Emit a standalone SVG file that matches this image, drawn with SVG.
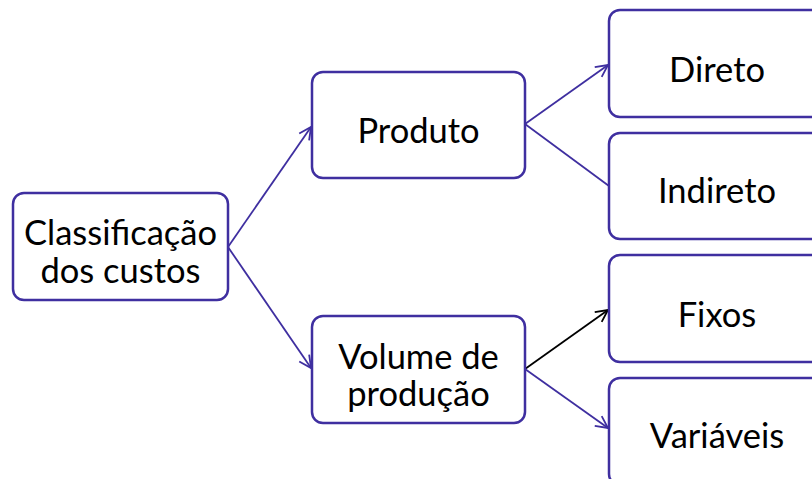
<svg xmlns="http://www.w3.org/2000/svg" width="812" height="479" viewBox="0 0 812 479">
<defs>
<style>
.box{fill:#fff;stroke:#3f2fa0;stroke-width:2.5}
.lbl{font-family:Lato,"Liberation Sans",sans-serif;font-size:34.5px;fill:#000;text-anchor:middle}
.c{fill:none;stroke:#3f2fa0;stroke-width:1.8}
.k{fill:none;stroke:#000;stroke-width:1.8}
</style>
<marker id="ap" viewBox="-14 -8 16 16" refX="0" refY="0" markerWidth="16" markerHeight="16" markerUnits="userSpaceOnUse" orient="auto">
<path d="M-12,-6 L0,0 L-12,6" fill="none" stroke="#3f2fa0" stroke-width="1.8"/>
</marker>
<marker id="ak" viewBox="-14 -8 16 16" refX="0" refY="0" markerWidth="16" markerHeight="16" markerUnits="userSpaceOnUse" orient="auto">
<path d="M-12,-6 L0,0 L-12,6" fill="none" stroke="#000" stroke-width="1.8"/>
</marker>
</defs>
<rect width="812" height="479" fill="#fff"/>
<g id="connectors">
<line class="c" x1="228" y1="247" x2="311" y2="127" marker-end="url(#ap)"/>
<line class="c" x1="228" y1="247" x2="311" y2="368" marker-end="url(#ap)"/>
<line class="c" x1="525" y1="124" x2="608" y2="65" marker-end="url(#ap)"/>
<line class="c" x1="525" y1="124" x2="609" y2="186"/>
<line class="k" x1="525" y1="369" x2="608" y2="310" marker-end="url(#ak)"/>
<line class="c" x1="525" y1="369" x2="608" y2="428" marker-end="url(#ap)"/>
</g>
<g id="n-classificacao">
<rect class="box" x="13" y="193" width="215" height="107" rx="11"/>
<text class="lbl" x="120.5" y="245">Classificação</text>
<text class="lbl" x="120.5" y="283">dos custos</text>
</g>
<g id="n-produto">
<rect class="box" x="312" y="72" width="213" height="106" rx="11"/>
<text class="lbl" x="418.5" y="143">Produto</text>
</g>
<g id="n-volume">
<rect class="box" x="312" y="316" width="213" height="107" rx="11"/>
<text class="lbl" x="418.5" y="369">Volume de</text>
<text class="lbl" x="418.5" y="406">produção</text>
</g>
<g id="n-direto">
<rect class="box" x="609" y="10" width="216" height="107" rx="11"/>
<text class="lbl" x="717" y="82">Direto</text>
</g>
<g id="n-indireto">
<rect class="box" x="609" y="133" width="216" height="106" rx="11"/>
<text class="lbl" x="717" y="203">Indireto</text>
</g>
<g id="n-fixos">
<rect class="box" x="609" y="255" width="216" height="107" rx="11"/>
<text class="lbl" x="717" y="327">Fixos</text>
</g>
<g id="n-variaveis">
<rect class="box" x="609" y="378" width="216" height="107" rx="11"/>
<text class="lbl" x="717" y="448">Variáveis</text>
</g>
</svg>
